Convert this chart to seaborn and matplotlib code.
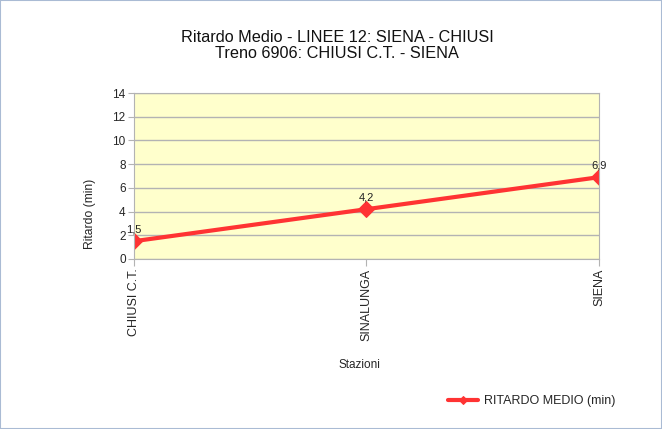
import pandas as pd
import seaborn as sns
import matplotlib.pyplot as plt
from matplotlib.patches import Rectangle

# data
stazioni = ['CHIUSI C.T.', 'SINALUNGA', 'SIENA']
ritardo = [1.5, 4.2, 6.9]
etichette = ['1,5', '4,2', '6,9']
titolo = ['Ritardo Medio - LINEE 12: SIENA - CHIUSI', 'Treno 6906: CHIUSI C.T. - SIENA']

df = pd.DataFrame({'Stazioni': stazioni, 'Ritardo': ritardo})
df['pos'] = range(len(df))

sns.set_style('white')
plt.rcParams['font.family'] = ['Liberation Sans', 'DejaVu Sans']

fig = plt.figure(figsize=(6.62, 4.29), dpi=100)
ax = fig.add_axes([0.2024, 0.3963, 0.7024, 0.3869])
ax.set_facecolor('#ffffcc')

sns.lineplot(data=df, x='pos', y='Ritardo', ax=ax, color='#ff3333', linewidth=3,
             marker='D', markersize=8, markeredgecolor='#ff3333',
             label='RITARDO MEDIO (min)')

for x, y, t in zip(df['pos'], ritardo, etichette):
    ax.annotate(t, (x, y), xytext=(0, 5), textcoords='offset points',
                ha='center', va='bottom', fontsize=8, color='#222222')

ax.set_xlim(0, len(stazioni) - 1)
ax.set_ylim(0, 14)
ax.set_yticks(range(0, 15, 2))
ax.set_xticks(df['pos'])
ax.set_xticklabels(stazioni, rotation=90, fontsize=9)
ax.tick_params(axis='y', labelsize=8.5, length=4, color='#b3b3b3', direction='out', left=True, pad=2)
ax.tick_params(axis='x', length=5, color='#b3b3b3', direction='out', bottom=True, pad=2)
ax.grid(axis='y', color='#b3b3b3', linewidth=1)
ax.set_axisbelow(True)
for s in ax.spines.values():
    s.set_color('#b3b3b3')

ax.set_xlabel('Stazioni', fontsize=8.5)
ax.xaxis.set_label_coords(0.485, -0.60)
ax.set_ylabel('Ritardo (min)', fontsize=8.7)
ax.yaxis.set_label_coords(-0.082, 0.27)

# titolo su due righe
fig.text(0.509, 1 - 42 / 429, titolo[0], ha='center', va='baseline', fontsize=11.7, color='#111111')
fig.text(0.509, 1 - 57.5 / 429, titolo[1], ha='center', va='baseline', fontsize=11.7, color='#111111')

ax.legend(loc='center left', bbox_to_anchor=(0.651, -0.858), frameon=False,
          fontsize=9, handlelength=2.4, handletextpad=0.5, markerscale=0.5)

fig.patches.append(Rectangle((0, 0), 1, 1, transform=fig.transFigure, fill=False,
                             edgecolor='#aabbd4', linewidth=1.5))

fig.savefig('out.png', dpi=100)
